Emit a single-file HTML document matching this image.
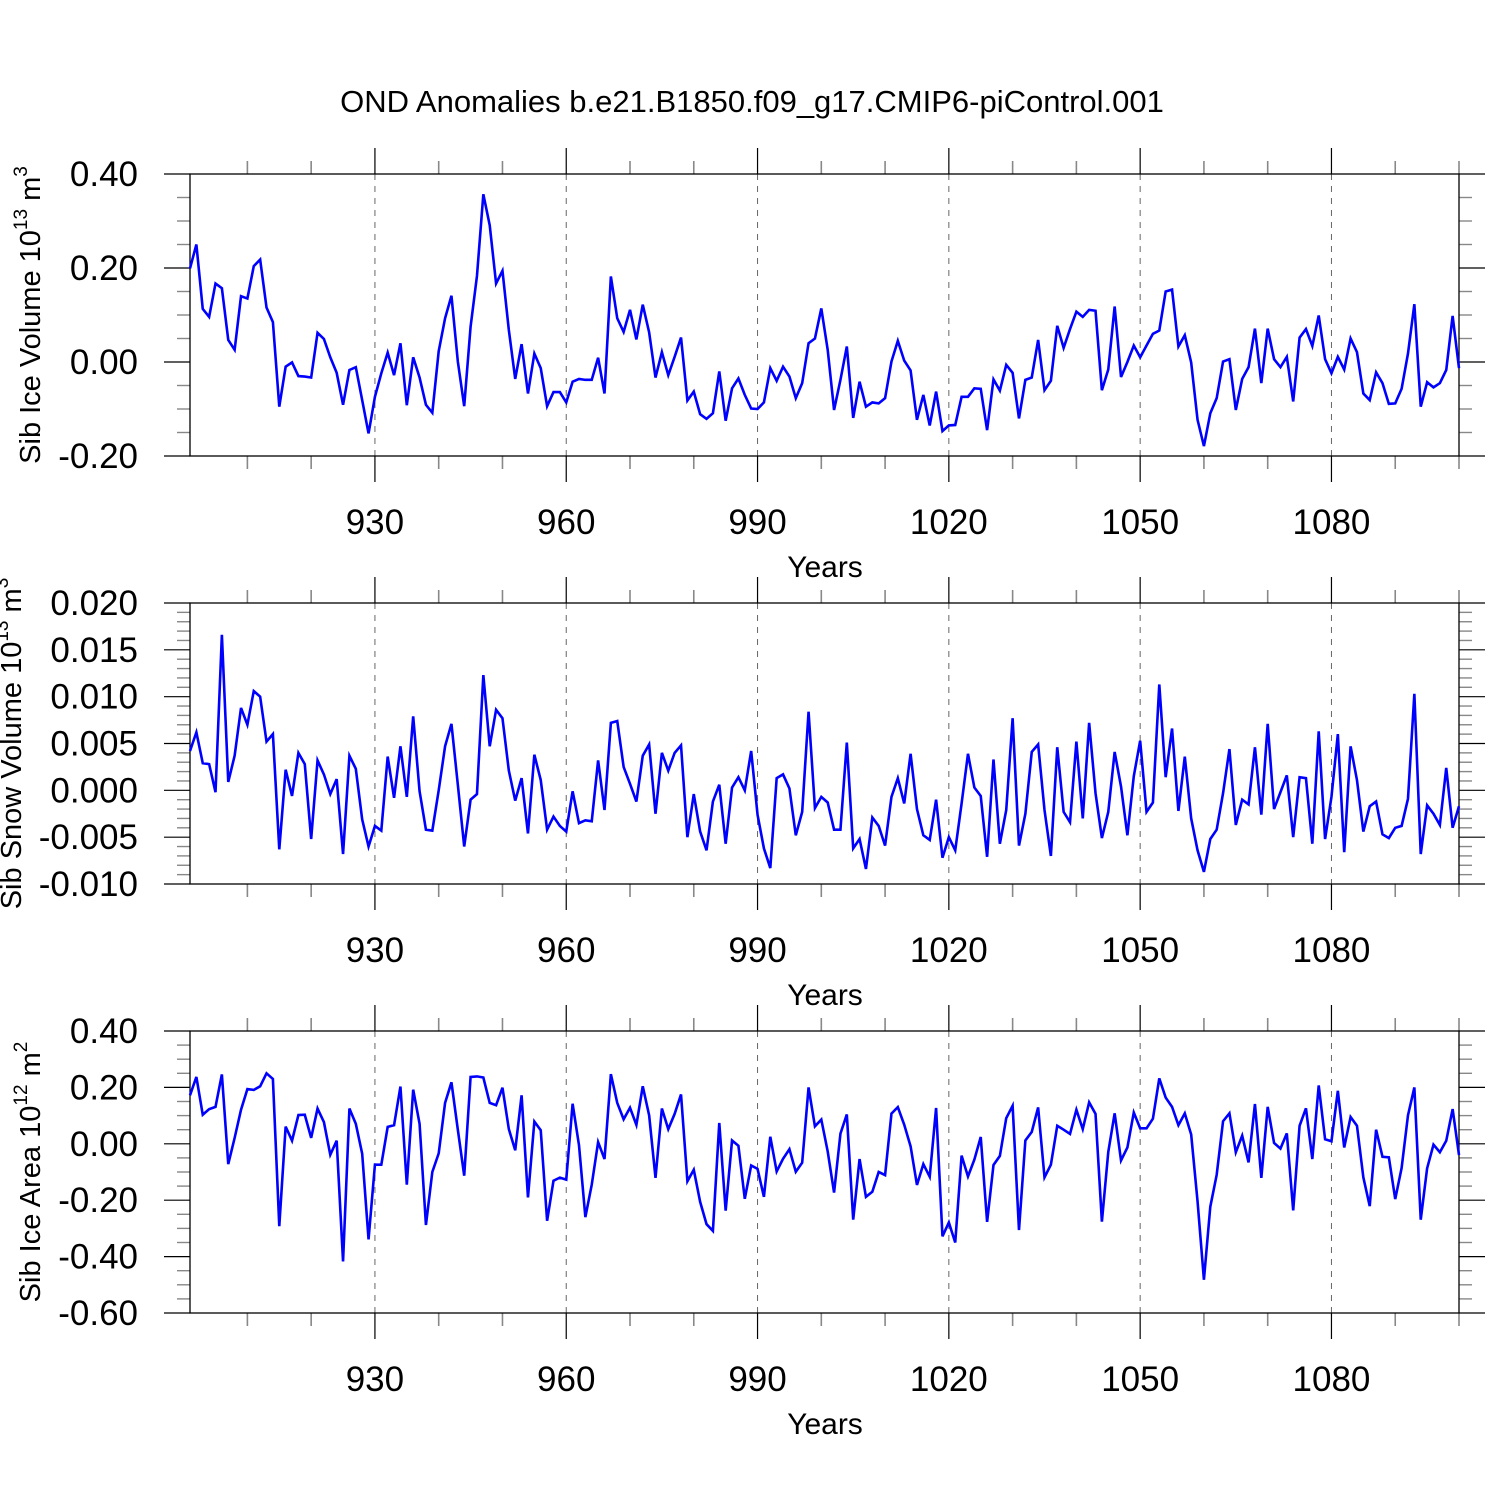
<!DOCTYPE html>
<html><head><meta charset="utf-8"><style>
html,body{margin:0;padding:0;background:#fff;}
svg{display:block;font-family:"Liberation Sans",Arial,sans-serif;}
</style></head><body>
<svg id="chart" width="1500" height="1500" viewBox="0 0 1500 1500">
<rect width="1500" height="1500" fill="#fff"/>
<text x="752" y="112" font-size="31" text-anchor="middle">OND Anomalies b.e21.B1850.f09_g17.CMIP6-piControl.001</text>
</svg>
<script>
const years = [];
for (let y = 901; y <= 1100; y++) years.push(y);
const xTickValues = [930, 960, 990, 1020, 1050, 1080];
const xTickLabels = ["930", "960", "990", "1020", "1050", "1080"];

const iceVolume = [0.199,0.250,0.113,0.096,0.167,0.157,0.047,0.026,0.140,0.135,0.204,0.218,0.116,0.085,-0.095,-0.010,-0.001,-0.030,-0.031,-0.033,
0.062,0.049,0.010,-0.023,-0.091,-0.017,-0.011,-0.081,-0.152,-0.074,-0.024,0.020,-0.028,0.040,-0.092,0.010,-0.033,-0.091,-0.108,0.023,
0.093,0.141,0.001,-0.094,0.075,0.183,0.357,0.291,0.167,0.194,0.068,-0.036,0.038,-0.067,0.018,-0.013,-0.094,-0.064,-0.064,-0.086,
-0.042,-0.036,-0.038,-0.038,0.009,-0.067,0.182,0.093,0.064,0.111,0.048,0.122,0.063,-0.033,0.021,-0.028,0.011,0.052,-0.082,-0.063,
-0.111,-0.121,-0.109,-0.020,-0.125,-0.056,-0.035,-0.070,-0.099,-0.100,-0.086,-0.013,-0.040,-0.010,-0.031,-0.077,-0.045,0.040,0.050,0.114,
0.026,-0.102,-0.038,0.033,-0.119,-0.042,-0.095,-0.086,-0.088,-0.077,0.001,0.045,0.003,-0.018,-0.123,-0.070,-0.135,-0.063,-0.147,-0.135,
-0.134,-0.074,-0.074,-0.056,-0.057,-0.145,-0.037,-0.061,-0.006,-0.023,-0.120,-0.038,-0.033,0.047,-0.060,-0.040,0.077,0.030,0.070,0.107,
0.096,0.111,0.109,-0.060,-0.016,0.118,-0.032,0.000,0.035,0.010,0.035,0.060,0.067,0.150,0.154,0.033,0.057,-0.001,-0.123,-0.179,
-0.109,-0.077,0.001,0.006,-0.102,-0.036,-0.011,0.071,-0.045,0.071,0.006,-0.011,0.011,-0.084,0.052,0.070,0.034,0.099,0.006,-0.024,
0.011,-0.016,0.050,0.021,-0.067,-0.081,-0.022,-0.045,-0.089,-0.088,-0.057,0.018,0.123,-0.095,-0.043,-0.054,-0.045,-0.017,0.098,-0.013];

const snowVolume = [4.2,6.2,2.9,2.8,-0.2,16.6,0.9,3.7,8.8,7.0,10.6,10.0,5.2,6.0,-6.3,2.2,-0.6,4.0,2.8,-5.2,
3.2,1.7,-0.4,1.2,-6.8,3.7,2.3,-3.1,-6.0,-3.8,-4.3,3.6,-0.8,4.7,-0.7,7.9,-0.1,-4.2,-4.3,0.0,
4.7,7.1,0.6,-6.0,-1.0,-0.4,12.3,4.7,8.6,7.7,2.1,-1.1,1.3,-4.6,3.8,1.1,-4.2,-2.8,-3.8,-4.4,
-0.1,-3.5,-3.2,-3.3,3.2,-2.1,7.2,7.4,2.5,0.7,-1.2,3.7,4.9,-2.5,4.0,2.1,4.0,4.8,-5.0,-0.4,
-4.4,-6.4,-1.2,0.6,-5.7,0.3,1.4,0.0,4.2,-2.6,-6.2,-8.3,1.3,1.7,0.2,-4.8,-2.3,8.4,-1.9,-0.7,
-1.3,-4.2,-4.2,5.1,-6.2,-5.2,-8.4,-2.9,-3.8,-5.9,-0.7,1.3,-1.4,3.9,-2.0,-4.8,-5.3,-1.0,-7.2,-5.0,
-6.4,-1.4,3.9,0.3,-0.6,-7.1,3.3,-5.7,-2.1,7.7,-5.9,-2.5,4.1,4.9,-2.1,-7.0,4.6,-2.3,-3.4,5.2,
-3.0,7.2,-0.3,-5.1,-2.3,4.1,0.4,-4.8,1.5,5.3,-2.3,-1.3,11.3,1.4,6.6,-2.2,3.6,-3.0,-6.4,-8.7,
-5.2,-4.2,-0.3,4.4,-3.7,-1.0,-1.5,4.6,-2.6,7.1,-2.0,-0.2,1.6,-5.0,1.4,1.3,-5.7,6.3,-5.2,-0.7,
6.0,-6.6,4.7,1.1,-4.4,-1.7,-1.2,-4.7,-5.1,-4.0,-3.8,-0.9,10.3,-6.8,-1.6,-2.5,-3.7,2.4,-4.0,-1.7].map(v => v / 1000);

const iceArea = [0.172,0.237,0.103,0.123,0.131,0.246,-0.072,0.021,0.121,0.194,0.191,0.204,0.250,0.230,-0.292,0.061,0.011,0.102,0.103,0.021,
0.125,0.077,-0.039,0.011,-0.417,0.125,0.071,-0.035,-0.339,-0.074,-0.074,0.060,0.066,0.203,-0.145,0.192,0.071,-0.288,-0.100,-0.034,
0.145,0.218,0.050,-0.113,0.237,0.239,0.235,0.145,0.137,0.199,0.052,-0.023,0.172,-0.190,0.079,0.048,-0.273,-0.131,-0.120,-0.127,
0.142,-0.005,-0.260,-0.145,0.006,-0.054,0.247,0.145,0.087,0.128,0.067,0.204,0.101,-0.121,0.125,0.052,0.106,0.175,-0.133,-0.092,
-0.206,-0.285,-0.309,0.074,-0.237,0.012,-0.007,-0.195,-0.077,-0.089,-0.188,0.025,-0.098,-0.053,-0.019,-0.099,-0.067,0.200,0.062,0.086,
-0.027,-0.173,0.036,0.104,-0.269,-0.054,-0.188,-0.170,-0.100,-0.111,0.107,0.130,0.068,-0.009,-0.146,-0.072,-0.117,0.127,-0.328,-0.279,
-0.350,-0.042,-0.116,-0.056,0.024,-0.277,-0.075,-0.043,0.091,0.135,-0.306,0.012,0.042,0.129,-0.119,-0.074,0.064,0.050,0.035,0.121,
0.052,0.147,0.106,-0.276,-0.029,0.108,-0.059,-0.013,0.111,0.055,0.055,0.089,0.232,0.164,0.131,0.066,0.108,0.033,-0.204,-0.482,
-0.223,-0.110,0.080,0.108,-0.030,0.029,-0.066,0.141,-0.121,0.131,0.003,-0.017,0.037,-0.236,0.064,0.126,-0.054,0.207,0.016,0.009,
0.188,-0.013,0.095,0.064,-0.119,-0.221,0.050,-0.046,-0.048,-0.196,-0.086,0.101,0.200,-0.269,-0.087,-0.003,-0.030,0.011,0.123,-0.040];

const p1Ticks = [0.4, 0.2, 0.0, -0.2];
const p1Labels = ["0.40", "0.20", "0.00", "-0.20"];
const p2Ticks = [0.020, 0.015, 0.010, 0.005, 0.000, -0.005, -0.010];
const p2Labels = ["0.020", "0.015", "0.010", "0.005", "0.000", "-0.005", "-0.010"];
const p3Ticks = [0.4, 0.2, 0.0, -0.2, -0.4, -0.6];
const p3Labels = ["0.40", "0.20", "0.00", "-0.20", "-0.40", "-0.60"];

const NS = "http://www.w3.org/2000/svg";
const svg = document.getElementById("chart");
const L = 190, R = 1459, X0 = 901, X1 = 1100;
function xScale(y) { return L + (y - X0) / (X1 - X0) * (R - L); }
function mk(tag, attrs, parent) {
  const e = document.createElementNS(NS, tag);
  for (const k in attrs) e.setAttribute(k, attrs[k]);
  (parent || svg).appendChild(e);
  return e;
}

function panel(cfg) {
  const g = mk("g", {});
  
  
  const T = cfg.top, B = cfg.bottom;
  const yScale = v => T + (cfg.max - v) / (cfg.max - cfg.min) * (B - T);
  xTickValues.forEach(v => {
    const gl = mk("line", {x1: xScale(v), x2: xScale(v), y1: T, y2: B, stroke: "#666", "stroke-width": 1, "stroke-dasharray": "6,6"}, g);
    
    
  });
  for (let v = 910; v <= 1100; v += 10) {
    const isMajor = xTickValues.includes(v);
    const len = isMajor ? 26 : 13;
    const x = xScale(v);
    mk("line", {x1: x, x2: x, y1: T, y2: T - len, stroke: isMajor ? "#000" : "#888", "stroke-width": isMajor ? 1.2 : 1.6}, g);
    mk("line", {x1: x, x2: x, y1: B, y2: B + len, stroke: isMajor ? "#000" : "#888", "stroke-width": isMajor ? 1.2 : 1.6}, g);
  }
  const nMinor = Math.round((cfg.max - cfg.min) / cfg.minor);
  for (let i = 0; i <= nMinor; i++) {
    const v = cfg.max - i * cfg.minor;
    const y = yScale(v);
    const isMajor = cfg.ticks.some(t => Math.abs(t - v) < cfg.minor / 10);
    const len = isMajor ? 26 : 13;
    const col = isMajor ? "#000" : "#888";
    mk("line", {x1: L, x2: L - len, y1: y, y2: y, stroke: col, "stroke-width": isMajor ? 1.2 : 1.4}, g);
    mk("line", {x1: R, x2: R + len, y1: y, y2: y, stroke: col, "stroke-width": isMajor ? 1.2 : 1.4}, g);
  }
  cfg.ticks.forEach((v, i) => {
    const t = mk("text", {x: 138, y: yScale(v) + 12, "font-size": 35, "text-anchor": "end"}, g);
    t.textContent = cfg.labels[i];
    
    
  });
  xTickValues.forEach((v, i) => {
    const t = mk("text", {x: xScale(v), y: B + 78, "font-size": 35, "text-anchor": "middle"}, g);
    t.textContent = xTickLabels[i];
    
    
  });
  const xt = mk("text", {x: 825, y: B + 121, "font-size": 30, "text-anchor": "middle"}, g);
  xt.textContent = "Years";
  
  
  const yt = mk("text", {x: 0, y: 0, "font-size": 29, "text-anchor": "middle", transform: `translate(${cfg.titleX},${(T + B) / 2}) rotate(-90)`}, g);
  
  
  yt.appendChild(document.createTextNode(cfg.title + " 10"));
  const s1 = mk("tspan", {"font-size": 19, dy: -13}, yt); s1.textContent = cfg.exp;
  const s2 = mk("tspan", {dy: 13}, yt); s2.textContent = " m";
  const s3 = mk("tspan", {"font-size": 19, dy: -13}, yt); s3.textContent = cfg.unitExp;
  const fr = mk("rect", {x: L, y: T, width: R - L, height: B - T, fill: "none", stroke: "#000", "stroke-width": 1.3}, g);
  
  
  const pts = cfg.data.map((v, i) => xScale(years[i]).toFixed(2) + "," + yScale(v).toFixed(2)).join(" ");
  const pl = mk("polyline", {points: pts, fill: "none", stroke: "#0000ff", "stroke-width": 2.6, "stroke-linejoin": "miter"}, g);
  
  
}

panel({name: "ice-volume-panel", titleX: 40, top: 174, bottom: 456, max: 0.4, min: -0.2, minor: 0.05, ticks: p1Ticks, labels: p1Labels, data: iceVolume, title: "Sib Ice Volume", exp: "13", unitExp: "3"});
panel({name: "snow-volume-panel", titleX: 21, top: 603, bottom: 884, max: 0.020, min: -0.010, minor: 0.001, ticks: p2Ticks, labels: p2Labels, data: snowVolume, title: "Sib Snow Volume", exp: "13", unitExp: "3"});
panel({name: "ice-area-panel", titleX: 40, top: 1031, bottom: 1313, max: 0.4, min: -0.6, minor: 0.05, ticks: p3Ticks, labels: p3Labels, data: iceArea, title: "Sib Ice Area", exp: "12", unitExp: "2"});
</script>
</body></html>
